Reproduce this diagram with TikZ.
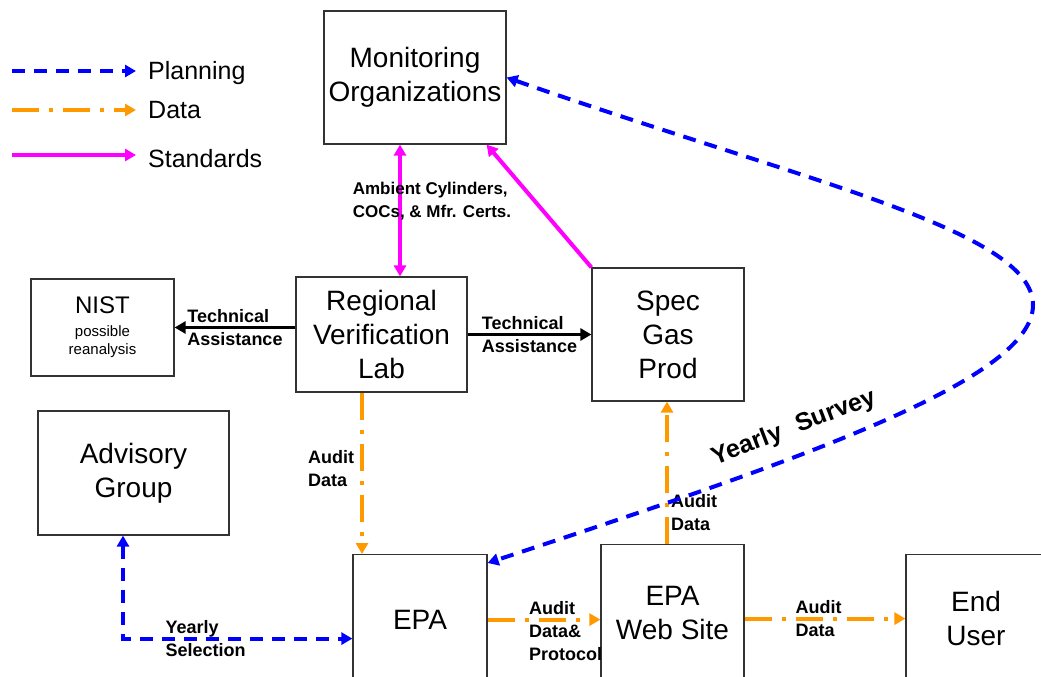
\documentclass[tikz,border=0pt]{standalone}
\usepackage{fontspec}
\setmainfont{Liberation Sans}
\usetikzlibrary{arrows.meta, positioning}

\definecolor{planblue}{RGB}{0,0,255}
\definecolor{dataorange}{RGB}{255,153,0}
\definecolor{stdmagenta}{RGB}{255,0,255}

\begin{document}
\begin{tikzpicture}[
  x=1pt, y=-1pt,
  >={Triangle[length=11pt, width=12pt]},
  box/.style = {draw=black!80, line width=1.2pt, align=center, inner sep=0pt, font=\fontsize{28}{34}\selectfont},
  lab/.style = {align=left, inner sep=1pt, font=\bfseries\fontsize{18}{23}\selectfont},
  legtext/.style = {anchor=base west, inner sep=0pt, font=\fontsize{25}{30}\selectfont},
  plan/.style = {draw=planblue, line width=4pt, dash pattern=on 13pt off 9pt},
  data/.style = {draw=dataorange, line width=4pt, dash pattern=on 27pt off 10pt on 4pt off 10pt},
  std/.style = {draw=stdmagenta, line width=4pt},
  tech/.style = {draw=black, line width=3.2pt}
]

  \fill[white, use as bounding box] (0,0) rectangle (1041,677);

  % Legend
  \coordinate (legplan) at (12,71);
  \coordinate (legdata) at (12,110);
  \coordinate (legstd) at (12,155);
  \node[legtext] (planning) at (148,80) {Planning};
  \node[legtext] (datatext) at (148,118) {Data};
  \node[legtext] (standards) at (148,167) {Standards};
  \draw[plan, ->] (legplan) -- ([xshift=-12pt]legplan -| planning.west);
  \draw[data, ->] (legdata) -- ([xshift=-12pt]legdata -| datatext.west);
  \draw[std, ->] (legstd) -- ([xshift=-12pt]legstd -| standards.west);

  % Boxes
  \node[box, minimum width=182pt, minimum height=133pt] (mon) at (415,77.5) {Monitoring\\Organizations};
  \node[box, minimum width=171pt, minimum height=115pt] (rvl) at (381.5,334.5) {Regional\\Verification\\Lab};
  \node[box, minimum width=152pt, minimum height=133pt] (spec) at (668,334.5) {Spec\\Gas\\Prod};
  \node[box, minimum width=143pt, minimum height=97pt, font=\fontsize{15}{18}\selectfont] (nist) at (102.5,327.5)
    {{\fontsize{24}{24}\selectfont NIST}\\[5pt]possible\\reanalysis};
  \node[box, minimum width=191pt, minimum height=124pt] (adv) at (133.5,473) {Advisory\\Group};
  \node[box, minimum width=134pt, minimum height=130pt, anchor=north] (epa) at (420,554) {EPA};
  \node[box, minimum width=143pt, minimum height=136pt, anchor=north] (web) at (672.5,544) {EPA\\Web Site};
  \node[box, minimum width=140pt, minimum height=128pt, anchor=north] (end) at (976,554) {End\\User};

  % Standards
  \draw[std, <->] ([xshift=-15pt]mon.south) -- node[lab, pos=0.43, xshift=32pt, font=\bfseries\fontsize{17}{23}\selectfont]
    {Ambient Cylinders,\\COCs, \& Mfr. Certs.} ([xshift=18.5pt]rvl.north);
  \draw[std, ->] (spec.north west) -- ([xshift=-20pt]mon.south east);

  % Technical assistance
  \draw[tech, ->] (rvl.east) -- node[lab] {Technical\\Assistance} (spec.west);
  \draw[tech, ->] (rvl.west |- nist.east) -- node[lab] {Technical\\Assistance} (nist.east);

  % Audit data
  \draw[data, ->] ([xshift=-19.5pt]rvl.south) -- node[lab, left, pos=0.47, inner sep=6pt] {Audit\\Data}
    ([xshift=-19.5pt]rvl.south |- epa.north);
  \draw[data, ->] ([xshift=-5.5pt]web.north) -- node[lab, right, pos=0.22, inner sep=2pt] {Audit\\Data}
    ([xshift=-5.5pt]web.north |- spec.south);
  \draw[data, ->] (epa.east) -- node[lab, anchor=west, pos=0.35, yshift=-11pt, inner sep=0pt] {Audit\\Data\&\\Protocol}
    (epa.east -| web.west);
  \draw[data, ->] (web.east |- end.west) -- node[lab, pos=0.46] {Audit\\Data} (end.west);

  % Planning
  \draw[plan, <->] ([xshift=-10.5pt]adv.south) |- node[lab, pos=0.68] {Yearly\\Selection} ([yshift=-19pt]epa.west);
  \draw[plan, <->] (mon.east) .. controls (800,180) and (1033,230) .. (1033,305)
    .. controls (1033,380) and (800,460) .. ([yshift=-9pt]epa.north east);
  \node[inner sep=0pt, rotate=21, font=\bfseries\fontsize{25}{30}\selectfont] (survey) at (794,428) {Yearly\hspace{16pt}Survey};

\end{tikzpicture}
\end{document}
